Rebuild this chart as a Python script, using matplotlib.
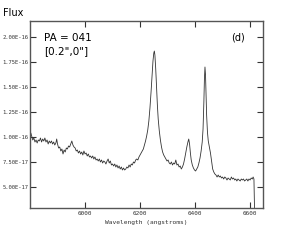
import numpy as np
import matplotlib.pyplot as plt

# spectrum (flux in units of 1e-16)
wavelength = [5800, 5803, 5806, 5810, 5814, 5818, 5822, 5826, 5830, 5834, 5838, 5842, 5846, 5850,
              5854, 5858, 5862, 5866, 5870, 5874, 5878, 5882, 5886, 5890, 5894, 5897, 5900, 5904,
              5908, 5912, 5916, 5920, 5924, 5928, 5932, 5936, 5940, 5944, 5948, 5952, 5956, 5960,
              5964, 5968, 5972, 5976, 5980, 5984, 5988, 5992, 5996, 6000, 6004, 6008, 6012, 6016,
              6020, 6024, 6028, 6032, 6036, 6040, 6044, 6048, 6052, 6056, 6060, 6064, 6068, 6072,
              6076, 6080, 6084, 6088, 6092, 6096, 6100, 6104, 6108, 6112, 6116, 6120, 6124, 6128,
              6132, 6136, 6140, 6144, 6148, 6152, 6156, 6160, 6164, 6168, 6172, 6176, 6180, 6184,
              6188, 6192, 6196, 6200, 6204, 6208, 6212, 6216, 6220, 6224, 6228, 6232, 6236, 6240,
              6244, 6247, 6250, 6252, 6254, 6257, 6260, 6263, 6266, 6270, 6274, 6278, 6282, 6286,
              6290, 6294, 6298, 6302, 6306, 6310, 6314, 6318, 6322, 6326, 6330, 6334, 6338, 6342,
              6346, 6350, 6354, 6358, 6362, 6366, 6370, 6374, 6377, 6380, 6383, 6386, 6390, 6394,
              6398, 6402, 6406, 6410, 6414, 6418, 6422, 6426, 6429, 6432, 6434, 6436, 6438, 6440,
              6442, 6445, 6448, 6452, 6456, 6460, 6464, 6468, 6472, 6476, 6480, 6484, 6488, 6492,
              6496, 6500, 6504, 6508, 6512, 6516, 6520, 6524, 6528, 6532, 6536, 6540, 6544, 6548,
              6552, 6556, 6560, 6564, 6568, 6572, 6576, 6580, 6584, 6588, 6592, 6596, 6600, 6604,
              6608, 6611, 6614, 6616, 6618]
flux = [1.02, 1.04, 1.01, 0.97, 0.99, 0.95, 0.97, 0.94, 0.97, 0.96, 0.99, 0.95, 0.98, 0.96,
        0.99, 0.95, 0.97, 0.93, 0.96, 0.94, 0.96, 0.93, 0.95, 0.92, 0.94, 0.98, 0.93, 0.89,
        0.90, 0.86, 0.88, 0.83, 0.87, 0.85, 0.89, 0.88, 0.91, 0.90, 0.93, 0.96, 0.92, 0.90,
        0.89, 0.86, 0.87, 0.84, 0.86, 0.83, 0.85, 0.82, 0.86, 0.83, 0.84, 0.81, 0.83, 0.80,
        0.81, 0.79, 0.81, 0.78, 0.80, 0.77, 0.78, 0.76, 0.78, 0.75, 0.77, 0.74, 0.76, 0.75,
        0.73, 0.76, 0.78, 0.74, 0.76, 0.72, 0.73, 0.71, 0.73, 0.70, 0.72, 0.69, 0.71, 0.68,
        0.70, 0.67, 0.69, 0.67, 0.68, 0.70, 0.69, 0.72, 0.70, 0.73, 0.72, 0.75, 0.74, 0.77,
        0.78, 0.77, 0.80, 0.82, 0.84, 0.86, 0.88, 0.92, 0.96, 1.01, 1.07, 1.16, 1.29, 1.45,
        1.63, 1.76, 1.84, 1.86, 1.82, 1.68, 1.50, 1.32, 1.18, 1.06, 0.97, 0.90, 0.85, 0.82,
        0.80, 0.78, 0.76, 0.77, 0.74, 0.73, 0.75, 0.72, 0.74, 0.73, 0.77, 0.72, 0.73, 0.70,
        0.71, 0.68, 0.70, 0.73, 0.78, 0.84, 0.90, 0.95, 0.98, 0.93, 0.84, 0.77, 0.72, 0.69,
        0.67, 0.66, 0.68, 0.70, 0.74, 0.79, 0.86, 0.95, 1.08, 1.35, 1.58, 1.70, 1.62, 1.42,
        1.22, 1.05, 0.96, 0.90, 0.84, 0.76, 0.68, 0.65, 0.63, 0.62, 0.60, 0.62, 0.60, 0.61,
        0.59, 0.60, 0.58, 0.60, 0.59, 0.57, 0.59, 0.58, 0.57, 0.60, 0.58, 0.59, 0.57, 0.58,
        0.56, 0.58, 0.57, 0.56, 0.58, 0.57, 0.58, 0.56, 0.57, 0.58, 0.56, 0.58, 0.57, 0.59,
        0.58, 0.60, 0.58, 0.30, 0.10]

x_ticks = [6000, 6200, 6400, 6600]
y_ticks = [0.5, 0.75, 1.0, 1.25, 1.5, 1.75, 2.0]
y_labels = ['5.00E-17', '7.50E-17', '1.00E-16', '1.25E-16', '1.50E-16', '1.75E-16', '2.00E-16']

fig = plt.figure(figsize=(2.98, 2.42), dpi=100)
ax = fig.add_axes([0.1007, 0.1405, 0.7819, 0.7727])

ax.plot(wavelength, flux, color='#333333', lw=0.6)
ax.set_xlim(5800, 6647)
ax.set_ylim(0.29, 2.16)

ax.set_xticks(x_ticks)
ax.set_xticklabels([str(v) for v in x_ticks], fontsize=4.3, family='DejaVu Sans Mono', color='#555555')
ax.set_yticks(y_ticks)
ax.set_yticklabels(y_labels, fontsize=4.0, family='DejaVu Sans Mono', color='#555555')
ax.tick_params(direction='in', length=4, width=0.8, top=True, right=True, pad=2, colors='#333333')
ax.tick_params(axis='y', pad=1.2)
for s in ax.spines.values():
    s.set_color('#555555')
    s.set_linewidth(1.0)

ax.set_xlabel('Wavelength (angstroms)', fontsize=4.5, family='DejaVu Sans Mono', color='#333333', labelpad=3)

fig.text(0.01, 0.945, 'Flux', fontsize=7, va='center', ha='left')
ax.text(0.06, 0.91, 'PA = 041', transform=ax.transAxes, fontsize=7.5, va='center')
ax.text(0.06, 0.84, '[0.2",0"]', transform=ax.transAxes, fontsize=7.5, va='center')
ax.text(0.865, 0.91, '(d)', transform=ax.transAxes, fontsize=7, va='center')

fig.savefig('out.png', dpi=100)
